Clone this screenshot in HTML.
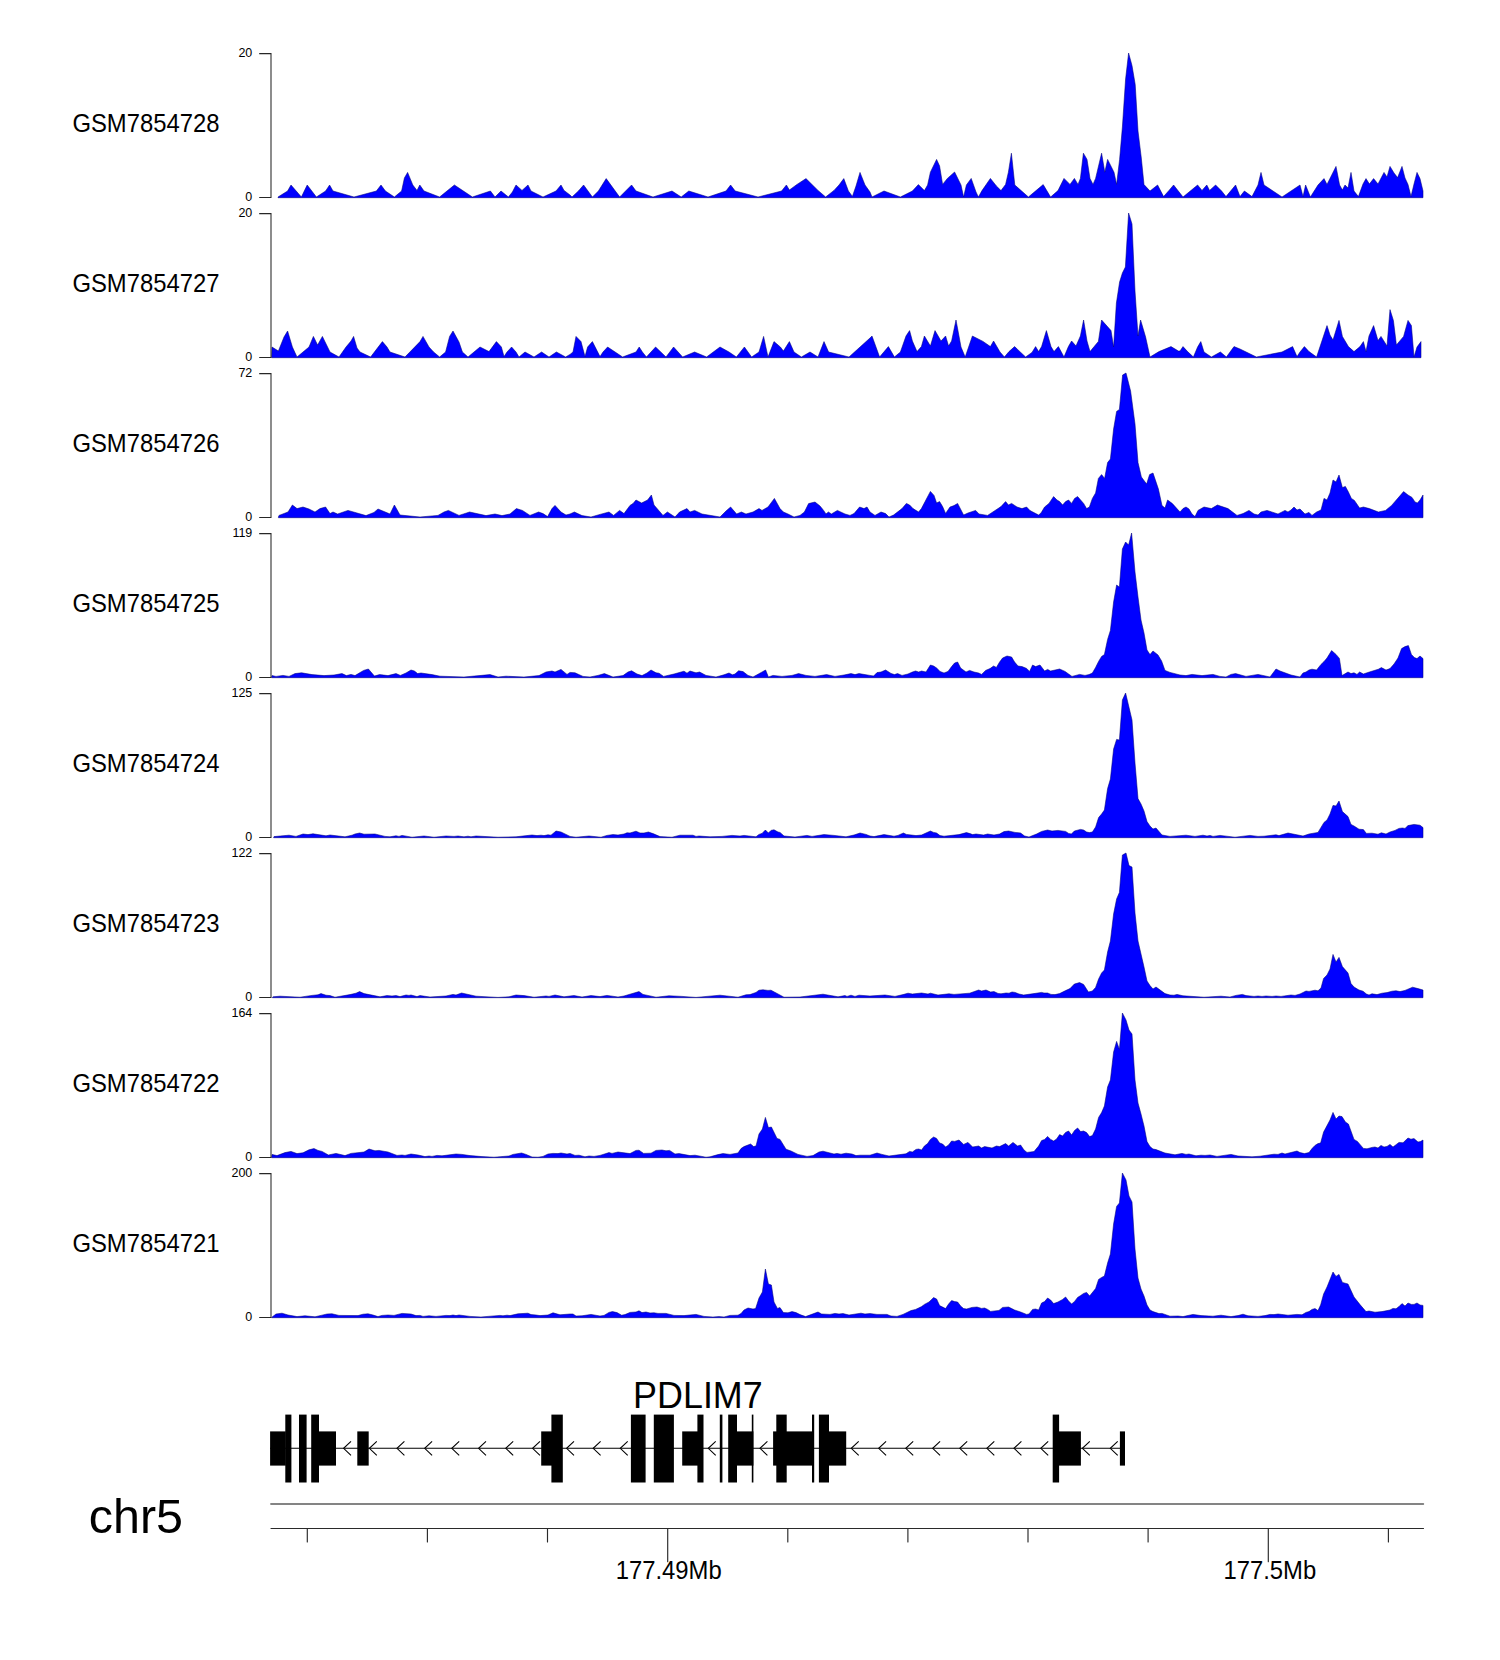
<!DOCTYPE html>
<html><head><meta charset="utf-8"><title>chr5 PDLIM7 tracks</title>
<style>html,body{margin:0;padding:0;background:#fff}svg{display:block}text{font-family:"Liberation Sans",Arial,Helvetica,sans-serif;fill:#000}</style></head><body>
<svg width="1500" height="1660" viewBox="0 0 1500 1660">
<rect width="1500" height="1660" fill="#fff"/>
<path d="M278.0,197.7 L278.0,197.0 L287.6,191.0 L291.0,185.0 L301.4,197.0 L307.2,185.0 L316.4,197.0 L325.6,191.0 L329.6,185.0 L333.0,191.0 L354.0,197.0 L376.4,191.0 L381.0,185.0 L385.4,191.0 L394.4,197.0 L401.6,191.0 L404.4,178.0 L407.6,172.4 L412.8,185.0 L417.0,190.4 L419.8,185.0 L424.0,191.0 L439.6,197.0 L454.4,185.0 L472.4,197.0 L490.4,191.0 L495.0,197.0 L501.0,191.0 L508.4,197.0 L512.4,192.0 L516.0,185.0 L522.0,190.4 L528.0,185.0 L531.0,191.0 L543.0,197.0 L556.0,191.0 L561.0,185.0 L564.0,190.4 L570.0,195.0 L572.0,197.0 L578.4,191.0 L583.6,185.0 L592.4,197.0 L598.4,191.0 L606.2,178.6 L619.6,197.0 L631.6,185.0 L636.0,191.0 L653.0,197.0 L672.0,191.0 L681.2,197.0 L688.8,191.0 L708.0,197.0 L726.0,191.0 L730.6,185.0 L735.2,191.0 L758.0,197.0 L781.6,191.0 L786.4,185.0 L789.4,190.0 L797.0,184.4 L806.0,178.6 L818.0,190.4 L825.6,197.0 L834.0,190.4 L839.0,185.0 L843.8,178.6 L848.4,191.0 L852.4,196.4 L856.0,186.0 L860.0,172.4 L865.0,185.0 L870.0,192.0 L872.0,197.0 L884.0,191.0 L900.4,197.0 L912.4,191.0 L918.4,184.6 L924.4,190.6 L927.6,185.0 L930.4,172.2 L936.6,159.4 L939.6,166.0 L942.6,184.4 L947.4,178.4 L954.6,172.0 L961.0,185.0 L963.6,197.0 L966.4,185.0 L971.2,178.4 L976.0,192.0 L978.4,197.0 L982.0,190.6 L990.4,178.4 L996.4,186.0 L1001.0,190.6 L1005.6,184.4 L1008.4,172.2 L1011.4,153.2 L1014.8,185.0 L1028.4,197.0 L1043.2,184.6 L1050.6,197.0 L1058.0,190.6 L1064.0,178.4 L1070.0,184.4 L1074.4,178.4 L1078.0,184.4 L1080.4,178.4 L1083.4,153.2 L1087.0,159.4 L1090.0,178.4 L1093.0,184.4 L1095.6,178.4 L1101.6,153.2 L1104.8,172.2 L1107.6,159.4 L1114.0,172.2 L1116.6,184.4 L1119.6,159.4 L1122.4,127.0 L1125.6,79.0 L1128.6,53.0 L1132.0,65.6 L1135.2,84.4 L1138.0,131.0 L1141.2,157.0 L1144.0,184.6 L1150.0,191.0 L1157.6,185.0 L1163.6,196.6 L1169.0,190.4 L1173.6,185.0 L1183.0,197.0 L1197.6,185.0 L1202.0,190.4 L1206.8,185.0 L1209.6,190.4 L1215.6,185.0 L1221.6,191.0 L1226.0,196.6 L1235.6,185.0 L1240.0,196.6 L1244.4,191.0 L1252.0,196.6 L1258.0,185.0 L1261.0,172.4 L1264.0,185.0 L1282.0,197.0 L1300.0,185.0 L1303.0,196.6 L1305.6,185.0 L1310.4,197.0 L1318.0,185.0 L1324.0,178.6 L1327.0,184.4 L1336.0,166.4 L1339.6,185.0 L1342.4,190.0 L1345.0,185.0 L1348.0,188.0 L1351.0,172.4 L1354.0,191.0 L1358.4,196.6 L1363.0,184.0 L1366.0,178.6 L1369.4,184.0 L1373.6,178.6 L1378.0,184.0 L1384.0,172.4 L1387.0,177.0 L1390.0,166.4 L1394.0,173.0 L1397.6,177.6 L1402.0,166.4 L1405.0,178.0 L1408.0,184.4 L1411.0,196.6 L1414.0,184.0 L1417.0,172.4 L1420.0,178.6 L1423.0,191.0 L1423.0,197.7 Z" fill="#0000ff" stroke="#000078" stroke-width="0.55" stroke-linejoin="round"/>
<path d="M259.2,53.6 H271 V197.4 H259.2" fill="none" stroke="#262626" stroke-width="1.05"/>
<text transform="translate(252.3,56.60) scale(1,1.045)" font-size="12.5" text-anchor="end">20</text>
<text transform="translate(252.3,200.65) scale(1,1.045)" font-size="12.5" text-anchor="end">0</text>
<text transform="translate(72.4,131.60) scale(1,1.045)" font-size="23.85" text-anchor="start">GSM7854728</text>
<path d="M271.6,357.7 L271.6,357.0 L272.0,347.0 L278.4,351.0 L284.0,337.0 L287.6,331.0 L292.4,347.0 L297.0,357.0 L309.0,347.0 L313.4,336.4 L317.6,345.0 L322.4,336.4 L330.0,352.0 L339.0,357.0 L346.0,347.0 L351.0,341.0 L353.6,336.4 L357.0,348.0 L360.0,352.0 L370.6,357.0 L382.4,341.6 L387.0,347.0 L390.0,352.0 L405.0,357.0 L420.0,341.6 L423.0,336.4 L429.0,347.0 L433.6,352.0 L439.6,357.0 L445.6,352.0 L449.6,336.4 L453.0,331.0 L459.0,342.0 L462.4,352.0 L468.0,357.0 L480.0,347.0 L489.0,351.6 L496.4,341.6 L501.4,347.0 L504.0,356.6 L507.0,352.0 L511.6,347.0 L516.0,352.0 L519.0,357.0 L525.0,352.0 L534.0,357.0 L541.6,352.0 L549.0,357.0 L556.4,352.0 L565.6,357.0 L570.0,354.4 L573.0,352.0 L576.0,336.4 L581.0,341.6 L585.0,356.6 L587.6,347.0 L592.4,341.6 L600.0,356.6 L603.0,352.0 L607.6,347.0 L622.6,357.0 L636.0,352.0 L639.2,347.0 L642.4,352.0 L646.4,357.0 L655.6,347.0 L666.0,357.0 L673.6,347.0 L682.6,357.0 L694.6,352.0 L706.6,357.0 L720.0,347.0 L729.0,352.0 L736.4,357.0 L744.4,347.0 L751.6,357.0 L759.0,352.0 L763.6,336.4 L768.0,357.0 L774.0,341.6 L780.4,347.0 L783.4,351.0 L789.4,341.6 L794.0,352.0 L801.4,357.0 L810.0,352.0 L818.0,357.0 L824.0,341.6 L828.6,352.0 L849.0,357.0 L870.0,338.0 L872.0,336.0 L879.6,357.0 L888.4,346.6 L894.4,357.0 L900.4,352.0 L906.0,336.0 L909.6,330.6 L912.4,341.0 L917.0,351.6 L921.4,346.6 L924.4,336.0 L930.4,346.0 L935.0,330.6 L941.0,341.0 L945.6,336.0 L948.6,346.0 L951.6,341.0 L956.0,320.0 L961.0,347.0 L965.2,357.0 L972.4,336.0 L983.0,341.4 L990.4,346.6 L993.6,341.0 L1000.0,352.0 L1004.4,357.0 L1009.0,351.6 L1014.6,346.6 L1025.6,357.0 L1032.0,352.4 L1035.6,346.6 L1038.6,351.6 L1041.6,346.6 L1046.4,330.6 L1051.0,346.6 L1054.0,351.6 L1058.4,346.6 L1064.0,357.0 L1068.4,346.6 L1071.6,341.0 L1076.0,346.0 L1080.4,336.0 L1083.6,320.0 L1087.0,341.0 L1090.0,351.6 L1098.4,341.4 L1101.6,320.0 L1111.0,330.6 L1113.6,347.0 L1116.4,303.0 L1119.6,282.0 L1122.4,273.0 L1125.4,267.0 L1128.6,213.0 L1132.0,224.0 L1135.0,291.0 L1138.0,336.0 L1140.6,320.0 L1145.6,337.0 L1150.0,357.0 L1159.0,351.6 L1171.0,346.6 L1178.4,351.0 L1180.0,351.0 L1183.0,346.6 L1187.6,351.6 L1193.4,357.0 L1197.6,347.0 L1200.8,341.6 L1204.0,352.0 L1211.4,357.0 L1220.4,352.0 L1226.4,357.0 L1234.0,346.6 L1240.0,349.0 L1256.4,357.0 L1282.0,352.0 L1292.6,346.6 L1297.0,356.6 L1300.0,352.0 L1304.4,346.6 L1309.0,351.6 L1316.6,357.0 L1327.0,325.6 L1330.0,335.0 L1333.0,340.0 L1339.0,320.4 L1342.4,336.4 L1348.4,346.6 L1354.0,351.6 L1360.0,346.6 L1363.4,341.6 L1366.0,351.6 L1369.0,336.0 L1373.6,325.6 L1378.0,340.6 L1381.0,336.4 L1387.0,346.0 L1390.0,309.6 L1393.4,320.4 L1396.4,345.0 L1403.6,336.4 L1408.0,320.4 L1411.4,325.6 L1414.0,357.0 L1417.0,347.0 L1421.0,341.6 L1421.0,357.7 Z" fill="#0000ff" stroke="#000078" stroke-width="0.55" stroke-linejoin="round"/>
<path d="M259.2,213.6 H271 V357.4 H259.2" fill="none" stroke="#262626" stroke-width="1.05"/>
<text transform="translate(252.3,216.60) scale(1,1.045)" font-size="12.5" text-anchor="end">20</text>
<text transform="translate(252.3,360.65) scale(1,1.045)" font-size="12.5" text-anchor="end">0</text>
<text transform="translate(72.4,291.60) scale(1,1.045)" font-size="23.85" text-anchor="start">GSM7854727</text>
<path d="M278.4,517.7 L278.4,517.0 L279.0,515.4 L288.0,512.0 L292.4,505.0 L297.0,508.6 L303.0,507.0 L309.0,509.0 L315.0,512.0 L320.0,508.6 L325.6,507.0 L330.0,513.6 L333.0,512.0 L337.6,514.0 L348.0,510.4 L366.0,515.6 L374.0,512.4 L378.0,509.0 L390.0,514.0 L394.4,505.0 L400.0,515.0 L420.0,517.0 L438.0,515.4 L444.0,512.0 L448.4,510.4 L459.0,515.4 L469.6,512.0 L486.0,515.6 L495.0,514.0 L502.0,515.6 L510.0,514.0 L516.4,508.6 L522.4,510.4 L530.0,515.4 L538.6,512.0 L543.0,513.6 L547.6,516.6 L552.0,508.6 L555.0,505.4 L561.0,512.0 L566.0,515.0 L570.0,514.0 L574.4,512.0 L582.0,515.6 L591.0,517.0 L600.0,514.4 L609.0,512.0 L613.6,515.4 L619.6,510.4 L624.0,513.6 L630.0,505.4 L633.0,503.6 L636.0,500.0 L641.6,503.0 L647.6,500.0 L651.4,495.0 L654.0,505.0 L663.0,515.4 L667.4,512.0 L675.0,517.0 L679.6,512.0 L687.0,508.6 L690.0,512.0 L694.6,510.4 L702.0,514.0 L720.0,517.0 L726.0,511.0 L730.6,507.0 L736.6,514.0 L741.4,512.0 L746.0,514.0 L753.0,512.0 L759.0,508.6 L762.0,510.4 L768.0,507.0 L774.4,498.4 L780.0,508.6 L783.4,512.0 L788.0,514.0 L794.0,517.0 L800.0,515.4 L804.4,512.0 L808.6,503.6 L815.0,502.0 L820.0,506.0 L823.6,510.4 L826.0,514.0 L828.4,512.0 L831.4,514.0 L837.4,510.4 L845.0,514.0 L850.0,515.4 L854.0,513.6 L859.6,507.0 L864.0,508.6 L867.0,507.0 L870.0,512.0 L875.0,515.4 L881.0,512.0 L885.6,513.6 L889.0,517.0 L893.6,515.0 L902.0,508.6 L906.4,503.4 L909.6,505.0 L913.0,508.6 L918.6,512.0 L921.4,508.6 L930.4,491.4 L934.0,495.4 L936.6,503.0 L939.6,501.6 L942.6,506.6 L945.6,513.4 L950.0,507.0 L954.0,505.6 L957.6,503.4 L963.6,515.0 L968.0,513.0 L975.6,510.4 L979.0,514.0 L987.6,515.4 L1001.0,506.6 L1005.6,501.6 L1008.4,505.0 L1011.6,503.4 L1017.0,507.0 L1022.0,508.6 L1026.6,507.0 L1030.0,510.6 L1038.6,515.0 L1041.0,513.0 L1044.6,507.0 L1049.0,503.4 L1053.6,496.6 L1057.0,500.0 L1059.6,501.6 L1062.6,505.0 L1065.6,501.6 L1068.6,500.0 L1071.6,503.4 L1074.6,498.4 L1077.6,496.6 L1083.6,503.4 L1086.6,508.6 L1089.4,507.0 L1092.4,498.4 L1095.6,493.0 L1098.4,478.4 L1101.6,474.6 L1104.6,478.4 L1107.6,462.6 L1110.4,459.0 L1113.6,429.0 L1116.6,411.4 L1119.4,409.4 L1122.6,375.0 L1126.0,373.0 L1130.6,391.0 L1135.0,424.0 L1138.0,462.6 L1141.4,477.0 L1146.6,484.0 L1149.6,474.6 L1153.0,473.0 L1158.4,489.0 L1162.0,505.6 L1165.0,508.0 L1167.6,500.0 L1172.4,503.6 L1180.0,512.0 L1183.0,508.6 L1186.0,507.0 L1189.0,509.0 L1192.0,514.0 L1195.0,516.6 L1198.0,510.4 L1204.0,507.0 L1211.4,508.6 L1217.4,505.0 L1228.0,508.6 L1237.0,515.4 L1243.0,513.6 L1249.0,510.4 L1254.0,514.0 L1258.0,515.0 L1261.0,512.0 L1267.0,510.4 L1278.0,514.0 L1285.0,510.4 L1288.0,512.0 L1291.0,510.0 L1294.0,507.0 L1297.0,510.0 L1300.0,509.0 L1305.0,514.0 L1309.0,512.4 L1312.0,515.4 L1316.6,512.0 L1321.0,510.0 L1324.0,498.4 L1327.0,500.0 L1330.0,493.0 L1333.0,480.0 L1336.0,482.0 L1339.0,475.0 L1342.4,487.6 L1345.4,486.4 L1348.4,492.0 L1351.4,498.4 L1354.4,500.4 L1359.6,508.0 L1363.4,507.0 L1369.4,508.6 L1378.4,512.0 L1385.6,510.4 L1391.6,505.4 L1403.6,491.6 L1408.0,495.0 L1412.0,497.4 L1415.0,502.0 L1417.4,503.0 L1420.0,500.0 L1423.0,495.0 L1423.0,517.7 Z" fill="#0000ff" stroke="#000078" stroke-width="0.55" stroke-linejoin="round"/>
<path d="M259.2,373.6 H271 V517.4 H259.2" fill="none" stroke="#262626" stroke-width="1.05"/>
<text transform="translate(252.3,376.60) scale(1,1.045)" font-size="12.5" text-anchor="end">72</text>
<text transform="translate(252.3,520.65) scale(1,1.045)" font-size="12.5" text-anchor="end">0</text>
<text transform="translate(72.4,451.60) scale(1,1.045)" font-size="23.85" text-anchor="start">GSM7854726</text>
<path d="M271.6,677.7 L271.6,677.0 L272.0,675.6 L276.0,676.4 L283.0,675.4 L289.0,676.4 L295.0,673.6 L301.6,672.8 L312.0,674.6 L324.0,675.6 L334.0,675.0 L342.0,673.6 L346.4,675.6 L351.0,674.4 L355.0,675.6 L363.6,670.4 L368.4,669.0 L374.4,676.0 L379.6,674.6 L388.0,675.6 L396.0,673.6 L400.4,675.4 L406.0,673.0 L411.0,670.0 L414.4,671.0 L417.6,673.6 L421.0,673.0 L432.0,674.6 L440.0,676.2 L464.0,677.0 L490.0,674.6 L498.0,677.0 L506.0,676.2 L524.0,677.0 L539.0,675.6 L546.0,672.0 L552.0,671.0 L555.0,672.0 L561.0,669.4 L567.0,674.4 L570.0,672.4 L575.0,672.8 L583.0,676.4 L590.0,677.0 L598.0,675.4 L604.4,673.6 L613.0,677.0 L623.0,675.6 L628.0,672.0 L631.6,670.8 L637.0,674.0 L642.0,675.6 L647.0,673.0 L651.0,670.0 L656.0,672.8 L659.0,673.2 L663.6,676.4 L674.0,674.0 L684.0,671.2 L687.0,673.2 L690.0,671.0 L696.0,672.8 L699.6,672.0 L706.0,675.4 L716.0,677.0 L724.0,674.8 L729.0,673.0 L732.4,674.8 L735.0,674.0 L738.6,670.8 L743.0,671.6 L748.0,675.4 L753.0,677.0 L765.6,670.0 L768.4,677.0 L773.0,675.4 L782.0,676.4 L792.0,675.4 L798.6,673.6 L806.0,675.4 L815.0,676.4 L826.6,674.6 L835.0,676.4 L844.0,675.0 L851.0,673.6 L855.0,674.6 L859.0,673.6 L870.0,675.4 L873.6,676.0 L877.0,672.6 L881.0,672.0 L885.6,670.0 L891.0,673.4 L894.4,674.6 L897.6,673.6 L902.0,675.4 L908.0,674.0 L912.4,672.0 L915.6,671.0 L918.6,672.0 L921.6,671.0 L926.0,672.0 L930.4,665.0 L933.6,666.0 L936.6,668.0 L940.0,671.4 L944.0,673.0 L948.0,671.4 L951.6,666.6 L954.6,663.0 L957.6,662.0 L960.6,668.0 L966.0,672.0 L969.6,670.4 L974.0,672.0 L978.6,673.0 L981.6,674.4 L985.6,670.4 L990.0,668.6 L993.6,666.0 L996.4,667.4 L999.6,662.0 L1002.6,658.0 L1007.0,656.0 L1011.6,657.0 L1014.6,662.0 L1018.0,666.0 L1022.0,666.6 L1026.6,668.4 L1029.6,671.4 L1032.6,665.0 L1035.6,666.6 L1040.0,665.0 L1044.6,671.0 L1047.6,669.4 L1050.6,671.0 L1059.6,669.0 L1065.0,671.4 L1068.6,674.0 L1072.0,676.4 L1079.6,674.4 L1085.0,675.4 L1089.0,674.6 L1092.4,673.0 L1095.6,667.4 L1098.6,661.4 L1101.6,656.4 L1104.4,654.6 L1107.6,639.4 L1110.4,630.4 L1113.6,602.0 L1116.6,585.0 L1119.4,587.0 L1122.4,549.0 L1125.6,542.0 L1128.6,545.0 L1131.6,533.0 L1135.0,572.0 L1138.0,597.0 L1141.0,620.0 L1144.0,633.0 L1147.0,650.0 L1150.0,654.6 L1153.0,651.0 L1158.0,655.0 L1161.6,661.0 L1165.0,670.4 L1170.0,672.4 L1180.0,675.0 L1186.0,675.6 L1192.0,674.4 L1202.0,675.6 L1213.0,674.4 L1220.0,676.4 L1226.0,677.0 L1231.0,674.4 L1235.6,673.6 L1246.0,676.4 L1258.0,674.4 L1270.0,677.0 L1276.0,669.0 L1280.0,671.0 L1291.0,675.0 L1300.0,677.0 L1303.0,673.0 L1306.0,672.0 L1309.0,670.0 L1312.0,669.2 L1316.6,670.0 L1321.0,664.4 L1324.0,661.6 L1327.0,658.0 L1331.6,650.6 L1336.0,654.4 L1339.4,658.4 L1342.0,675.6 L1348.0,672.0 L1351.0,673.6 L1354.0,672.8 L1357.0,674.4 L1359.6,672.0 L1363.4,674.0 L1369.4,672.0 L1378.4,669.2 L1381.4,667.6 L1386.0,670.0 L1390.0,668.6 L1394.0,664.0 L1398.0,658.0 L1401.6,648.6 L1405.0,646.6 L1408.4,645.6 L1411.4,654.4 L1414.4,657.6 L1417.0,658.6 L1420.0,656.0 L1423.0,658.6 L1423.0,677.7 Z" fill="#0000ff" stroke="#000078" stroke-width="0.55" stroke-linejoin="round"/>
<path d="M259.2,533.6 H271 V677.4 H259.2" fill="none" stroke="#262626" stroke-width="1.05"/>
<text transform="translate(252.3,536.60) scale(1,1.045)" font-size="12.5" text-anchor="end">119</text>
<text transform="translate(252.3,680.65) scale(1,1.045)" font-size="12.5" text-anchor="end">0</text>
<text transform="translate(72.4,611.60) scale(1,1.045)" font-size="23.85" text-anchor="start">GSM7854725</text>
<path d="M273.6,837.7 L273.6,837.4 L274.0,836.6 L289.0,835.2 L296.0,836.4 L303.0,834.0 L308.0,834.6 L313.0,833.8 L326.0,835.8 L330.0,835.0 L345.0,836.8 L352.0,835.2 L355.0,834.0 L359.6,833.0 L364.0,834.2 L375.0,834.0 L385.0,836.4 L390.0,836.8 L396.0,835.8 L399.0,836.4 L402.0,835.4 L412.0,837.2 L424.0,836.0 L434.0,837.2 L446.0,836.0 L454.0,836.4 L458.0,836.0 L464.0,836.8 L468.0,836.2 L471.0,836.8 L476.0,836.0 L498.0,837.2 L516.0,836.8 L532.0,835.0 L537.0,835.6 L541.0,835.2 L544.0,835.6 L548.0,834.8 L551.0,835.2 L556.0,831.0 L561.0,832.0 L566.0,834.4 L570.0,836.4 L576.0,837.2 L589.0,836.0 L601.0,837.2 L607.0,835.4 L613.0,834.6 L618.0,835.0 L624.0,834.0 L627.0,832.8 L630.0,833.0 L636.0,831.2 L640.0,833.0 L644.0,833.0 L648.4,832.0 L653.0,833.6 L660.0,836.6 L672.0,837.2 L680.0,835.2 L693.0,835.2 L696.0,836.4 L699.0,836.0 L710.0,836.8 L722.0,836.4 L732.0,835.4 L740.0,836.0 L744.0,835.4 L756.0,836.8 L759.0,834.4 L762.0,833.4 L765.4,830.0 L768.4,833.0 L771.0,830.4 L774.0,829.8 L778.0,832.0 L780.0,832.4 L784.0,836.0 L795.0,837.0 L807.0,835.4 L812.0,836.4 L824.0,834.6 L834.0,835.4 L846.0,836.8 L854.0,835.0 L860.0,833.0 L866.0,834.4 L870.0,836.0 L874.0,836.6 L884.0,834.6 L894.0,836.2 L898.0,835.4 L903.4,833.0 L906.4,834.4 L916.0,835.6 L921.6,835.0 L930.4,831.0 L933.6,832.4 L936.6,833.0 L940.0,835.6 L944.0,836.2 L959.0,834.6 L966.4,832.6 L970.0,833.6 L972.6,834.6 L976.0,834.0 L983.6,835.0 L987.6,834.0 L994.0,835.0 L999.6,834.0 L1004.0,831.6 L1008.6,831.0 L1015.0,832.4 L1020.6,833.0 L1024.6,836.0 L1029.0,837.0 L1036.6,834.0 L1041.6,831.4 L1047.6,830.0 L1052.0,831.0 L1058.0,830.4 L1065.6,831.4 L1068.6,833.4 L1071.4,834.0 L1074.4,831.0 L1080.4,829.4 L1083.6,830.0 L1086.6,832.0 L1089.4,832.6 L1092.4,832.0 L1095.6,827.0 L1098.6,817.6 L1101.6,814.0 L1104.4,810.0 L1107.6,788.6 L1110.4,779.0 L1113.6,749.0 L1116.6,739.4 L1119.4,740.0 L1122.4,700.0 L1125.6,693.0 L1132.0,720.0 L1135.0,763.0 L1138.0,798.6 L1141.0,804.0 L1144.0,811.0 L1147.0,821.6 L1150.0,826.0 L1153.0,829.0 L1156.0,828.0 L1162.0,835.0 L1170.0,836.4 L1186.0,835.2 L1195.0,836.4 L1203.0,835.2 L1207.0,836.0 L1210.0,835.4 L1213.0,836.4 L1220.0,835.4 L1235.0,837.2 L1250.0,835.4 L1258.0,836.4 L1264.0,836.2 L1276.0,834.8 L1279.0,835.6 L1288.0,833.0 L1303.0,836.0 L1309.0,834.0 L1318.0,832.4 L1324.0,822.4 L1327.0,820.0 L1330.0,814.0 L1333.0,805.4 L1336.0,806.0 L1339.0,801.0 L1342.4,811.6 L1348.0,816.6 L1351.0,824.4 L1354.0,826.0 L1359.0,829.2 L1363.4,829.6 L1366.4,833.4 L1372.0,833.2 L1378.0,834.2 L1381.4,832.8 L1386.0,834.0 L1390.0,832.0 L1395.0,830.4 L1399.0,828.4 L1402.4,828.0 L1405.0,828.4 L1408.0,825.6 L1414.0,824.4 L1420.0,825.2 L1423.0,827.6 L1423.0,837.7 Z" fill="#0000ff" stroke="#000078" stroke-width="0.55" stroke-linejoin="round"/>
<path d="M259.2,693.6 H271 V837.4 H259.2" fill="none" stroke="#262626" stroke-width="1.05"/>
<text transform="translate(252.3,696.60) scale(1,1.045)" font-size="12.5" text-anchor="end">125</text>
<text transform="translate(252.3,840.65) scale(1,1.045)" font-size="12.5" text-anchor="end">0</text>
<text transform="translate(72.4,771.60) scale(1,1.045)" font-size="23.85" text-anchor="start">GSM7854724</text>
<path d="M272.4,997.7 L272.4,997.4 L273.0,996.8 L280.0,996.2 L300.0,997.2 L312.0,995.4 L318.0,994.8 L321.0,993.6 L326.0,995.2 L330.0,995.6 L335.0,997.2 L350.0,994.6 L356.0,993.2 L359.6,991.6 L364.0,993.6 L380.0,996.8 L387.0,995.6 L392.0,996.0 L396.0,995.6 L400.0,996.6 L406.0,995.0 L409.0,995.4 L411.0,995.0 L417.0,996.6 L420.0,995.6 L430.0,997.0 L446.0,996.0 L453.0,994.4 L456.0,995.0 L461.6,993.0 L476.0,996.2 L498.0,997.4 L509.0,996.8 L516.0,995.0 L524.0,995.6 L534.0,997.2 L546.0,996.0 L549.0,996.4 L555.0,995.0 L564.0,996.8 L570.0,996.0 L574.0,995.6 L582.0,997.0 L591.0,995.6 L600.0,996.6 L607.0,995.4 L618.0,997.0 L624.0,996.0 L630.0,994.2 L639.0,991.6 L643.0,994.4 L656.0,997.2 L669.0,995.8 L682.0,996.4 L696.0,997.4 L720.0,995.2 L738.0,997.2 L746.0,994.8 L750.0,994.6 L756.0,992.4 L759.0,990.2 L763.0,989.8 L768.0,990.4 L771.0,990.2 L784.0,997.2 L800.0,997.0 L823.0,994.2 L838.0,996.8 L845.0,995.6 L847.0,996.4 L851.0,995.2 L855.0,996.4 L859.0,995.2 L870.0,996.0 L885.0,995.0 L895.0,996.4 L903.0,994.6 L908.0,993.2 L912.4,994.0 L921.6,993.0 L928.0,994.0 L930.4,993.2 L938.0,995.0 L949.0,993.8 L954.0,994.4 L969.6,993.2 L978.6,990.0 L981.6,991.0 L986.0,990.0 L990.6,992.0 L994.0,991.6 L998.0,993.4 L1001.0,993.8 L1006.0,993.0 L1009.0,993.2 L1012.0,992.0 L1015.0,992.4 L1019.0,994.0 L1023.6,995.0 L1034.0,993.6 L1041.6,992.4 L1044.0,993.0 L1047.6,993.0 L1051.0,994.4 L1055.0,994.6 L1059.6,993.6 L1065.6,990.6 L1070.0,988.6 L1074.4,984.0 L1079.6,982.6 L1083.6,984.4 L1088.4,992.0 L1092.4,991.0 L1095.6,987.4 L1098.6,979.0 L1101.6,973.0 L1104.4,970.0 L1107.6,952.0 L1110.4,941.0 L1113.6,914.0 L1116.6,899.0 L1119.4,892.4 L1122.4,855.0 L1126.0,853.0 L1129.0,865.6 L1132.0,867.0 L1135.0,913.0 L1138.0,941.0 L1144.0,967.0 L1147.0,981.0 L1150.0,985.6 L1153.0,989.0 L1156.0,987.0 L1165.0,993.6 L1170.0,995.0 L1174.0,995.2 L1177.0,994.4 L1183.0,995.8 L1204.0,997.2 L1221.0,996.2 L1230.0,997.0 L1236.0,995.4 L1242.4,994.4 L1246.0,995.6 L1254.0,996.4 L1258.0,996.0 L1262.0,996.4 L1266.0,996.0 L1272.0,996.4 L1276.0,996.0 L1281.0,996.4 L1291.0,995.0 L1295.0,995.4 L1300.0,994.0 L1306.0,991.0 L1309.0,991.4 L1315.0,990.2 L1318.0,990.8 L1321.0,988.0 L1323.6,978.4 L1327.0,975.0 L1330.0,969.0 L1333.0,954.4 L1336.0,962.0 L1339.0,957.4 L1342.4,966.6 L1348.0,973.0 L1351.0,983.6 L1354.0,987.0 L1359.0,990.0 L1363.0,991.2 L1366.4,994.0 L1369.0,995.0 L1372.0,993.8 L1377.0,994.6 L1382.0,993.2 L1387.0,992.6 L1392.0,991.2 L1396.0,990.8 L1400.0,991.6 L1405.0,990.4 L1412.6,987.2 L1418.0,988.6 L1423.0,990.0 L1423.0,997.7 Z" fill="#0000ff" stroke="#000078" stroke-width="0.55" stroke-linejoin="round"/>
<path d="M259.2,853.6 H271 V997.4 H259.2" fill="none" stroke="#262626" stroke-width="1.05"/>
<text transform="translate(252.3,856.60) scale(1,1.045)" font-size="12.5" text-anchor="end">122</text>
<text transform="translate(252.3,1000.65) scale(1,1.045)" font-size="12.5" text-anchor="end">0</text>
<text transform="translate(72.4,931.60) scale(1,1.045)" font-size="23.85" text-anchor="start">GSM7854723</text>
<path d="M271.6,1157.7 L271.6,1157.4 L272.0,1154.4 L277.0,1155.6 L285.0,1152.6 L291.0,1151.4 L297.0,1153.6 L303.0,1152.8 L309.0,1149.8 L314.0,1148.6 L318.0,1150.4 L322.0,1151.4 L328.4,1155.0 L336.0,1153.4 L345.0,1155.6 L351.0,1153.4 L364.0,1152.0 L369.0,1149.0 L375.0,1150.8 L379.0,1150.4 L388.0,1152.0 L397.0,1155.4 L402.0,1155.0 L405.0,1155.4 L411.0,1154.0 L418.0,1155.0 L425.0,1156.6 L429.0,1156.0 L432.0,1156.4 L437.0,1155.4 L442.0,1155.8 L456.0,1154.0 L462.0,1154.4 L470.0,1155.6 L482.0,1156.6 L494.0,1157.2 L509.0,1156.0 L513.0,1154.4 L521.6,1153.0 L526.0,1154.4 L532.0,1157.0 L538.0,1157.2 L543.0,1156.4 L548.0,1154.0 L553.0,1153.4 L558.0,1153.6 L561.0,1153.0 L567.0,1154.0 L570.0,1153.4 L575.0,1155.4 L579.0,1155.2 L585.0,1156.8 L589.0,1156.0 L594.0,1156.4 L600.0,1155.4 L609.0,1152.6 L612.0,1153.4 L618.0,1152.0 L630.0,1153.6 L636.0,1150.4 L639.0,1150.2 L643.6,1153.4 L651.0,1153.2 L656.0,1150.4 L662.0,1150.0 L666.0,1150.8 L669.6,1150.4 L675.0,1154.0 L679.0,1153.6 L690.0,1155.6 L695.0,1155.2 L706.0,1157.2 L710.0,1156.8 L718.0,1154.6 L723.0,1153.6 L730.0,1154.4 L738.0,1153.0 L741.0,1148.6 L744.0,1146.6 L750.6,1144.0 L753.6,1146.6 L756.0,1146.0 L759.0,1134.0 L762.4,1129.0 L765.4,1117.4 L768.4,1127.6 L771.4,1127.0 L777.0,1138.4 L780.0,1139.4 L786.0,1149.2 L791.0,1151.0 L798.0,1154.4 L807.0,1156.4 L813.0,1155.6 L819.0,1152.0 L823.0,1151.2 L834.0,1154.0 L837.0,1153.4 L841.0,1154.2 L846.0,1153.2 L852.0,1154.0 L856.0,1155.6 L860.0,1155.2 L870.0,1155.2 L877.0,1153.0 L882.0,1154.4 L889.0,1156.0 L906.0,1153.8 L909.6,1151.4 L912.4,1152.0 L916.0,1149.4 L918.6,1149.0 L921.6,1150.0 L924.4,1146.0 L927.6,1143.6 L930.4,1139.4 L933.6,1137.0 L936.6,1138.4 L939.6,1143.0 L942.6,1144.0 L945.6,1147.0 L948.6,1145.0 L951.6,1141.0 L954.6,1141.4 L959.0,1140.0 L963.6,1144.4 L968.0,1142.4 L972.6,1147.0 L978.6,1146.0 L981.6,1148.0 L984.6,1146.6 L992.0,1148.0 L996.4,1146.0 L999.6,1146.6 L1005.6,1143.6 L1008.6,1146.0 L1013.0,1142.4 L1017.6,1146.0 L1020.6,1145.0 L1024.0,1150.0 L1027.0,1152.4 L1034.0,1151.6 L1038.6,1146.0 L1041.6,1140.6 L1044.6,1139.4 L1047.6,1136.4 L1050.6,1139.4 L1053.6,1141.0 L1056.6,1139.0 L1059.6,1134.6 L1062.6,1136.0 L1065.6,1132.4 L1068.6,1131.0 L1071.6,1135.0 L1074.6,1130.4 L1077.6,1128.0 L1080.6,1131.6 L1083.6,1131.0 L1086.6,1132.6 L1089.6,1136.6 L1092.4,1135.6 L1095.6,1129.0 L1098.6,1117.4 L1101.6,1112.6 L1104.4,1106.0 L1107.6,1087.0 L1110.4,1080.0 L1113.6,1052.0 L1116.6,1041.4 L1119.4,1049.4 L1122.4,1013.0 L1126.0,1020.0 L1129.0,1030.0 L1132.0,1034.0 L1135.0,1080.0 L1138.0,1103.0 L1141.0,1114.0 L1144.0,1126.0 L1147.0,1141.6 L1150.0,1146.6 L1153.0,1149.0 L1156.0,1149.6 L1165.0,1153.0 L1175.0,1154.8 L1182.0,1153.4 L1186.0,1154.4 L1189.0,1154.0 L1196.0,1155.8 L1201.0,1155.2 L1205.0,1155.4 L1210.0,1155.0 L1217.0,1156.4 L1231.0,1154.4 L1238.0,1156.0 L1252.0,1156.8 L1260.0,1156.2 L1274.0,1154.2 L1278.0,1154.4 L1282.0,1153.0 L1285.0,1154.0 L1297.0,1151.0 L1300.0,1152.6 L1304.4,1153.6 L1309.0,1152.6 L1312.0,1148.6 L1315.0,1145.4 L1318.0,1143.6 L1320.6,1143.0 L1323.6,1132.0 L1330.0,1120.0 L1333.0,1112.4 L1336.0,1119.0 L1339.0,1116.0 L1342.0,1116.6 L1345.4,1122.0 L1348.4,1124.0 L1354.0,1139.4 L1357.4,1141.4 L1363.4,1148.4 L1367.0,1148.8 L1372.0,1147.4 L1375.0,1147.0 L1378.0,1148.0 L1381.0,1145.4 L1384.0,1147.0 L1387.0,1146.4 L1390.0,1144.4 L1393.0,1147.0 L1399.0,1142.4 L1403.0,1142.8 L1408.0,1138.0 L1411.0,1139.2 L1414.0,1138.6 L1418.0,1142.0 L1420.4,1141.6 L1423.0,1140.0 L1423.0,1157.7 Z" fill="#0000ff" stroke="#000078" stroke-width="0.55" stroke-linejoin="round"/>
<path d="M259.2,1013.6 H271 V1157.4 H259.2" fill="none" stroke="#262626" stroke-width="1.05"/>
<text transform="translate(252.3,1016.60) scale(1,1.045)" font-size="12.5" text-anchor="end">164</text>
<text transform="translate(252.3,1160.65) scale(1,1.045)" font-size="12.5" text-anchor="end">0</text>
<text transform="translate(72.4,1091.60) scale(1,1.045)" font-size="23.85" text-anchor="start">GSM7854722</text>
<path d="M271.6,1317.7 L271.6,1317.4 L276.0,1314.0 L282.0,1313.2 L288.0,1315.0 L297.0,1316.6 L305.0,1315.8 L315.0,1316.8 L321.0,1315.4 L327.0,1314.0 L332.0,1313.8 L339.0,1315.4 L358.0,1315.6 L363.0,1314.2 L368.0,1313.8 L373.0,1315.0 L378.0,1316.6 L382.0,1315.4 L388.0,1315.0 L394.0,1315.4 L402.0,1313.4 L411.0,1314.0 L416.0,1315.6 L420.0,1315.4 L423.0,1316.4 L429.0,1315.8 L436.0,1316.4 L446.0,1315.4 L450.0,1315.6 L453.0,1315.0 L456.0,1315.6 L459.0,1315.0 L470.0,1316.4 L481.0,1317.0 L488.0,1316.4 L500.0,1315.4 L503.0,1315.8 L507.0,1315.2 L510.0,1315.6 L518.0,1313.8 L528.0,1313.2 L531.0,1314.6 L536.0,1315.0 L540.0,1315.6 L548.0,1315.0 L553.0,1312.8 L560.0,1314.8 L570.0,1314.0 L573.0,1314.0 L576.0,1316.0 L582.0,1315.8 L591.0,1314.4 L600.0,1316.0 L604.0,1315.4 L609.0,1312.4 L612.4,1311.6 L617.0,1312.6 L621.6,1315.2 L625.0,1314.6 L630.0,1312.4 L636.0,1312.0 L639.0,1310.8 L642.0,1312.6 L646.0,1312.0 L650.0,1313.0 L654.0,1312.8 L658.0,1313.4 L666.0,1313.4 L674.0,1315.4 L684.0,1315.6 L696.0,1314.4 L704.0,1316.4 L713.0,1317.0 L719.0,1316.6 L724.0,1317.0 L730.0,1315.4 L738.0,1315.2 L741.0,1313.6 L744.0,1310.0 L748.0,1308.0 L753.0,1309.0 L755.6,1308.6 L759.0,1298.0 L762.4,1292.0 L765.4,1269.0 L768.4,1284.0 L771.4,1285.0 L774.0,1302.0 L777.4,1308.4 L780.0,1307.6 L783.4,1312.6 L788.0,1312.8 L792.0,1311.6 L796.0,1312.6 L800.0,1314.6 L805.6,1316.6 L818.0,1312.0 L821.6,1314.0 L830.0,1314.4 L835.0,1313.4 L839.0,1314.0 L843.0,1313.6 L849.0,1315.0 L861.0,1313.2 L865.0,1314.0 L870.0,1313.6 L877.0,1314.4 L887.0,1314.4 L891.0,1316.0 L897.0,1316.4 L903.0,1314.4 L911.0,1310.6 L915.6,1309.4 L918.6,1308.0 L921.6,1306.6 L924.4,1304.4 L929.0,1302.0 L933.6,1297.6 L936.6,1299.0 L939.6,1305.6 L945.6,1308.6 L948.6,1304.0 L951.6,1300.6 L954.6,1301.6 L957.6,1302.0 L960.6,1306.0 L963.6,1308.6 L966.6,1309.0 L972.0,1307.4 L977.0,1307.0 L981.6,1308.4 L984.6,1308.0 L987.6,1309.4 L990.6,1311.4 L999.0,1310.4 L1002.6,1307.4 L1008.6,1307.0 L1014.6,1310.0 L1020.6,1312.0 L1026.6,1314.4 L1029.0,1314.0 L1032.6,1309.4 L1035.6,1309.0 L1038.6,1310.0 L1041.6,1303.0 L1044.6,1301.6 L1047.6,1298.0 L1050.6,1300.0 L1053.6,1303.6 L1058.0,1302.0 L1062.6,1299.4 L1065.6,1297.0 L1068.6,1301.0 L1071.6,1304.0 L1074.6,1301.4 L1077.6,1297.4 L1080.6,1295.6 L1083.6,1293.4 L1086.6,1292.4 L1089.6,1296.0 L1095.6,1288.6 L1098.6,1279.4 L1101.6,1277.4 L1104.4,1276.0 L1107.6,1263.0 L1110.4,1254.0 L1113.6,1224.0 L1116.6,1206.4 L1119.4,1203.0 L1122.4,1173.0 L1126.0,1180.0 L1129.0,1196.0 L1132.0,1202.0 L1135.0,1249.0 L1138.0,1278.0 L1141.0,1289.0 L1144.0,1296.0 L1147.0,1305.0 L1150.0,1310.0 L1153.0,1311.6 L1159.0,1313.6 L1162.0,1313.4 L1170.0,1316.2 L1178.0,1316.0 L1183.0,1316.6 L1193.0,1314.4 L1201.0,1315.6 L1213.0,1316.2 L1221.0,1315.2 L1231.0,1316.6 L1238.0,1315.6 L1243.0,1314.2 L1248.0,1315.8 L1258.0,1316.4 L1265.0,1315.6 L1270.0,1314.4 L1274.0,1314.6 L1278.0,1314.0 L1288.0,1315.2 L1297.0,1314.4 L1302.0,1314.8 L1306.0,1312.4 L1309.0,1311.6 L1312.0,1309.4 L1315.0,1308.6 L1318.0,1310.6 L1320.6,1305.0 L1323.6,1294.0 L1327.0,1287.0 L1333.0,1272.0 L1336.0,1276.4 L1339.0,1274.4 L1342.4,1282.4 L1348.0,1284.0 L1354.0,1297.0 L1360.0,1304.6 L1366.0,1311.6 L1369.0,1311.0 L1375.0,1312.2 L1382.0,1311.6 L1390.0,1310.0 L1393.0,1308.4 L1396.0,1308.8 L1399.0,1306.6 L1402.0,1303.6 L1405.0,1306.0 L1408.0,1303.0 L1411.4,1304.4 L1414.0,1304.4 L1417.0,1303.0 L1420.0,1305.0 L1423.0,1305.4 L1423.0,1317.7 Z" fill="#0000ff" stroke="#000078" stroke-width="0.55" stroke-linejoin="round"/>
<path d="M259.2,1173.6 H271 V1317.4 H259.2" fill="none" stroke="#262626" stroke-width="1.05"/>
<text transform="translate(252.3,1176.60) scale(1,1.045)" font-size="12.5" text-anchor="end">200</text>
<text transform="translate(252.3,1320.65) scale(1,1.045)" font-size="12.5" text-anchor="end">0</text>
<text transform="translate(72.4,1251.60) scale(1,1.045)" font-size="23.85" text-anchor="start">GSM7854721</text>
<path d="M270.1,1448.3 H1125" stroke="#000" stroke-width="1.1" fill="none"/>
<path d="M351.0,1441.3 L343.6,1448.3 L351.0,1455.3 M376.8,1441.3 L369.4,1448.3 L376.8,1455.3 M404.4,1441.3 L397.0,1448.3 L404.4,1455.3 M432.1,1441.3 L424.7,1448.3 L432.1,1455.3 M459.2,1441.3 L451.8,1448.3 L459.2,1455.3 M486.0,1441.3 L478.6,1448.3 L486.0,1455.3 M513.2,1441.3 L505.8,1448.3 L513.2,1455.3 M540.0,1441.3 L532.6,1448.3 L540.0,1455.3 M574.0,1441.3 L566.6,1448.3 L574.0,1455.3 M600.6,1441.3 L593.2,1448.3 L600.6,1455.3 M627.7,1441.3 L620.3,1448.3 L627.7,1455.3 M715.7,1441.3 L708.3,1448.3 L715.7,1455.3 M767.4,1441.3 L760.0,1448.3 L767.4,1455.3 M858.7,1441.3 L851.3,1448.3 L858.7,1455.3 M886.1,1441.3 L878.7,1448.3 L886.1,1455.3 M913.2,1441.3 L905.8,1448.3 L913.2,1455.3 M940.1,1441.3 L932.7,1448.3 L940.1,1455.3 M967.2,1441.3 L959.8,1448.3 L967.2,1455.3 M994.3,1441.3 L986.9,1448.3 L994.3,1455.3 M1021.4,1441.3 L1014.0,1448.3 L1021.4,1455.3 M1048.2,1441.3 L1040.8,1448.3 L1048.2,1455.3 M1089.8,1441.3 L1082.4,1448.3 L1089.8,1455.3 M1117.7,1441.3 L1110.3,1448.3 L1117.7,1455.3" stroke="#000" stroke-width="1.1" fill="none"/>
<rect x="270.1" y="1431.4" width="15.7" height="34.2" fill="#000"/>
<rect x="318.5" y="1431.4" width="17.5" height="34.2" fill="#000"/>
<rect x="357.3" y="1431.4" width="11.4" height="34.2" fill="#000"/>
<rect x="541.2" y="1431.4" width="10.8" height="34.2" fill="#000"/>
<rect x="682.2" y="1431.4" width="15.8" height="34.2" fill="#000"/>
<rect x="736.5" y="1431.4" width="16.9" height="34.2" fill="#000"/>
<rect x="773.1" y="1431.4" width="3.9" height="34.2" fill="#000"/>
<rect x="786.0" y="1431.4" width="26.5" height="34.2" fill="#000"/>
<rect x="828.5" y="1431.4" width="17.7" height="34.2" fill="#000"/>
<rect x="1058.5" y="1431.4" width="22.4" height="34.2" fill="#000"/>
<rect x="1119.9" y="1431.4" width="5.1" height="34.2" fill="#000"/>
<rect x="285.3" y="1414.6" width="6.1" height="67.9" fill="#000"/>
<rect x="299.0" y="1414.6" width="7.6" height="67.9" fill="#000"/>
<rect x="311.2" y="1414.6" width="7.8" height="67.9" fill="#000"/>
<rect x="551.4" y="1414.6" width="11.4" height="67.9" fill="#000"/>
<rect x="630.9" y="1414.6" width="14.7" height="67.9" fill="#000"/>
<rect x="653.8" y="1414.6" width="20.1" height="67.9" fill="#000"/>
<rect x="697.4" y="1414.6" width="6.1" height="67.9" fill="#000"/>
<rect x="719.8" y="1414.6" width="2.6" height="67.9" fill="#000"/>
<rect x="728.2" y="1414.6" width="8.8" height="67.9" fill="#000"/>
<rect x="751.8" y="1414.6" width="1.6" height="67.9" fill="#000"/>
<rect x="776.3" y="1414.6" width="10.4" height="67.9" fill="#000"/>
<rect x="812.0" y="1414.6" width="2.2" height="67.9" fill="#000"/>
<rect x="818.9" y="1414.6" width="10.1" height="67.9" fill="#000"/>
<rect x="1052.7" y="1414.6" width="6.4" height="67.9" fill="#000"/>
<text transform="translate(697.9,1407.90) scale(1,1.045)" font-size="35.9" text-anchor="middle">PDLIM7</text>
<path d="M271,1504 H1423.3" stroke="#848484" stroke-width="1.8" stroke-linecap="round" fill="none"/>
<path d="M271,1528.5 H1423.5" stroke="#2a2a2a" stroke-width="1.15" stroke-linecap="round" fill="none"/>
<path d="M307.3,1528.5 V1541.9 M427.4,1528.5 V1541.9 M547.5,1528.5 V1541.9 M667.7,1528.5 V1561.7 M787.8,1528.5 V1541.9 M907.9,1528.5 V1541.9 M1028.0,1528.5 V1541.9 M1148.1,1528.5 V1541.9 M1268.3,1528.5 V1561.7 M1388.4,1528.5 V1541.9" stroke="#2a2a2a" stroke-width="1.15" stroke-linecap="round" fill="none"/>
<text transform="translate(668.7,1578.60) scale(1,1.045)" font-size="23.85" text-anchor="middle">177.49Mb</text>
<text transform="translate(1269.8,1578.60) scale(1,1.045)" font-size="23.85" text-anchor="middle">177.5Mb</text>
<text transform="translate(88.8,1532.90) scale(1,0.995)" font-size="48.4" text-anchor="start">chr5</text>
</svg></body></html>
